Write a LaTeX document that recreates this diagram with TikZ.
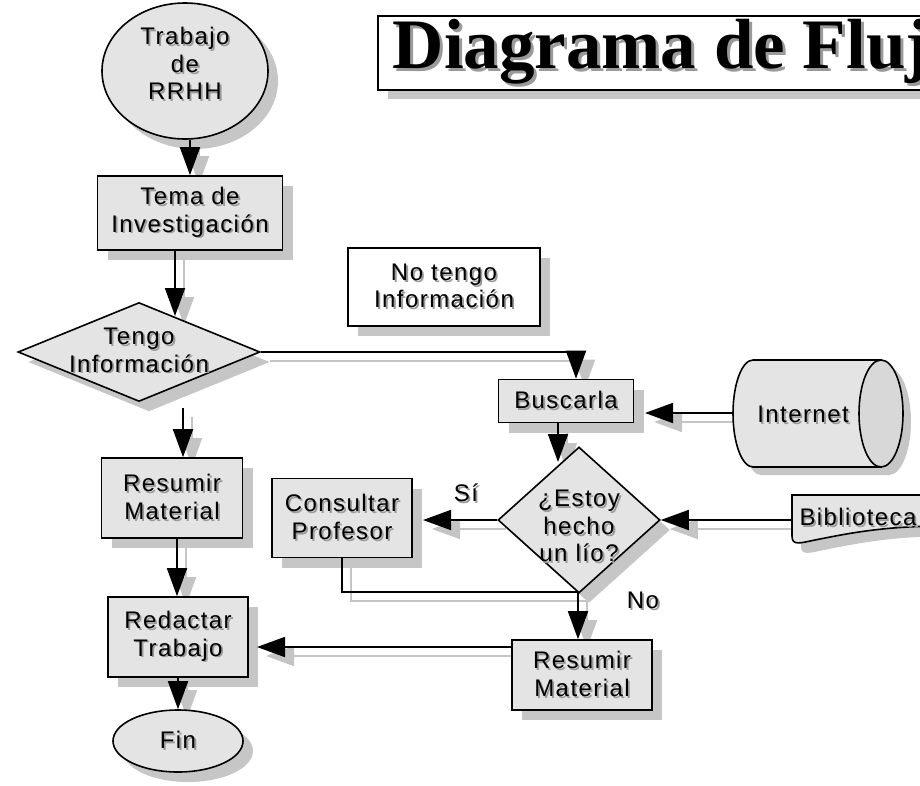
\documentclass[tikz,border=0pt]{standalone}
\usepackage{fontspec}
\setmainfont{Liberation Sans}
\newfontfamily\lblfont{Liberation Sans}[LetterSpace=6]
\newfontfamily\titlefont{Liberation Serif}
\usetikzlibrary{shapes.geometric,arrows.meta,shadows,backgrounds,calc}

\definecolor{boxfill}{HTML}{E4E4E4}
\definecolor{capfill}{HTML}{D8D8D8}
\definecolor{nshad}{HTML}{C6C6C6}
\definecolor{tshad}{HTML}{9A9A9A}
\definecolor{lshad}{HTML}{C4C4C4}

\newcommand\sh[1]{\leavevmode\rlap{\kern1.8pt\raisebox{-1.8pt}{\textcolor{tshad}{#1}}}#1}
\newcommand\tsh[1]{\leavevmode\rlap{\kern3pt\raisebox{-3pt}{\textcolor{tshad}{#1}}}#1}
\newcommand\ctext[2][0pt]{\smash{\makebox[0pt]{\raisebox{#1}{\begin{tabular}{@{}c@{}}#2\end{tabular}}}}}
\newcommand\conn[2][arr]{%
  \begin{pgfonlayer}{background}\draw[#1,cshadow] #2;\end{pgfonlayer}%
  \draw[#1] #2;}
\newcommand\cylpath{(753,360) -- (881,360) -- (881,467) -- (753,467) arc[start angle=270, end angle=90, x radius=20pt, y radius=53.5pt] -- cycle}
\newcommand\bibpath{(792,495) -- (945,495) -- (945,526) .. controls (885,526) and (850,533) .. (815,540) .. controls (800,543) and (792,546) .. (792,536) -- cycle}

\tikzset{
  lbl/.style={font={\lblfont\fontsize{24}{27.5}\selectfont}, align=center, text=black},
  sbox/.style={lbl, draw=black, line width=1.6pt, fill=boxfill, inner sep=0pt,
    drop shadow={shadow xshift=10pt, shadow yshift=-10pt, fill=nshad, opacity=1}},
  wbox/.style={sbox, fill=white},
  sell/.style={sbox, ellipse},
  sdia/.style={sbox, diamond},
  titlebox/.style={draw=black, line width=1.6pt, fill=white, inner xsep=15pt, inner ysep=0pt,
    minimum height=74pt, font={\titlefont\bfseries\fontsize{71}{80}\selectfont},
    drop shadow={shadow xshift=10pt, shadow yshift=-9pt, fill=nshad, opacity=1}},
  arr/.style={line width=1.8pt, -{Triangle[length=28pt,width=20pt]}},
  plain/.style={line width=1.8pt},
  cshadow/.style={draw=lshad, transform canvas={shift={(9pt,-9pt)}}},
}

\begin{document}
\begin{tikzpicture}[x=1pt,y=-1pt]
\useasboundingbox (0,0) rectangle (920,785);

% title
\node[titlebox, anchor=north west] (title) at (377,15) {\raisebox{-5pt}{\tsh{Diagrama de Flujo}}};

% Internet cylinder (drawn directly)
\fill[nshad, shift={(8pt,-8pt)}] \cylpath;
\fill[nshad, shift={(8pt,-8pt)}] (881,413.5) ellipse [x radius=22pt, y radius=53.5pt];
\draw[line width=1.6pt, fill=boxfill] \cylpath;
\draw[line width=1.6pt, fill=capfill] (881,413.5) ellipse [x radius=22pt, y radius=53.5pt];
\node[lbl] (inet) at (803,415) {\sh{Internet}};
\coordinate (intL) at (733,413);

% Biblioteca document shape
\fill[nshad, shift={(9pt,-10pt)}] \bibpath;
\draw[line width=1.6pt, fill=boxfill] \bibpath;
\node[lbl] (biblio) at (858,518) {\sh{Biblioteca}};
\coordinate (bibL) at (792,520);

% nodes
\node[sell, minimum width=166pt, minimum height=136pt] (trab) at (185,71)
  {\ctext[-2pt]{\sh{Trabajo}\\\sh{de}\\\sh{RRHH}}};
\node[sbox, minimum width=185pt, minimum height=74pt] (tema) at (190,213)
  {\sh{Tema de}\\\sh{Investigación}};
\node[sdia, minimum width=242pt, minimum height=99pt] (tengo) at (139,352)
  {\ctext[-7pt]{\sh{Tengo}\\\sh{Información}}};
\node[wbox, minimum width=192pt, minimum height=78pt] (notengo) at (444,287)
  {\sh{No tengo}\\\sh{Información}};
\node[sbox, minimum width=141pt, minimum height=80pt] (res1) at (172,498)
  {\sh{Resumir}\\\sh{Material}};
\node[sbox, minimum width=140pt, minimum height=80pt] (red) at (178,637)
  {\sh{Redactar}\\\sh{Trabajo}};
\node[sell, minimum width=130pt, minimum height=62pt] (fin) at (178,741) {\sh{Fin}};
\node[sbox, minimum width=135pt, minimum height=43pt] (busc) at (566,401) {\sh{Buscarla}};
\node[sdia, minimum width=162pt, minimum height=146pt] (estoy) at (579,520)
  {\ctext[-15pt]{\sh{¿Estoy}\\\sh{hecho}\\\sh{un lío?}}};
\node[sbox, minimum width=140pt, minimum height=79pt] (consul) at (342,518)
  {\sh{Consultar}\\\sh{Profesor}};
\node[sbox, minimum width=140pt, minimum height=70pt] (res2) at (582,675)
  {\sh{Resumir}\\\sh{Material}};

% labels
\node[lbl] (si) at (466,494) {\sh{Sí}};
\node[lbl] (no) at (643,601) {\sh{No}};

% helper coordinates
\coordinate (a2e) at (175,316);
\coordinate (a3) at (183,408);
\coordinate (x177) at (177,0);
\coordinate (x576) at (576,0);
\coordinate (buscR) at (645,413);
\coordinate (x558) at (558,0);
\coordinate (estoyIn) at (558,462);
\coordinate (consR) at (423,520);
\coordinate (junc) at (578,592);
\coordinate (res2L) at (512,647);
\coordinate (redR) at (257,647);

% connectors
\conn{(trab.south -| tema.north) -- (tema.north)}
\conn{(tema.south -| a2e) -- (a2e)}
\conn{(a3) -- (a3 |- res1.north)}
\conn{(res1.south -| x177) -- (red.north -| x177)}
\conn{(red.south -| fin.north) -- (fin.north)}
\conn{(tengo.east) -| (busc.north -| x576)}
\conn{(intL) -- (buscR)}
\conn{(busc.south -| x558) -- (estoyIn)}
\conn{(bibL) -- (estoy.east)}
\conn{(estoy.west) -- (consR)}
\conn[plain]{(consul.south) |- (junc)}
\conn{(junc) -- (junc |- res2.north)}
\conn{(res2L) -- (redR)}
\end{tikzpicture}
\end{document}
